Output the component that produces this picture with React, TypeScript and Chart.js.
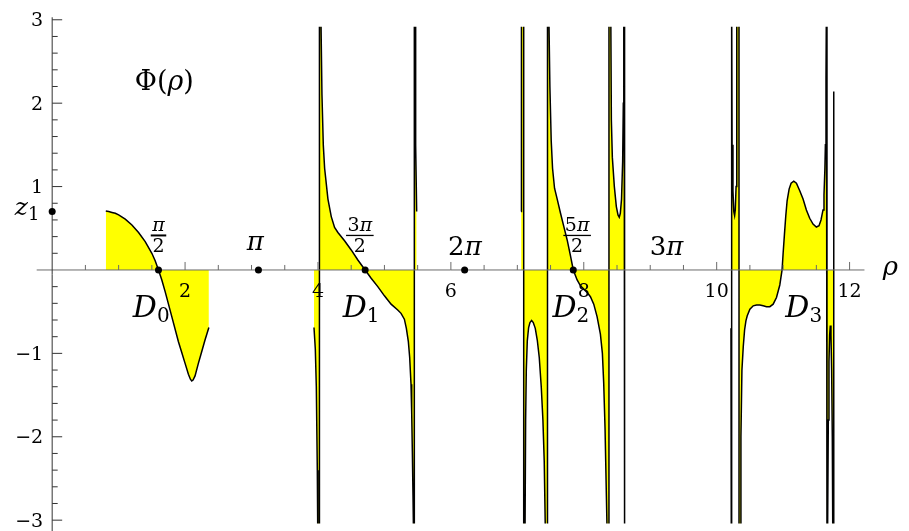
import React, { useEffect, useRef } from 'react';
import { Chart, registerables } from 'chart.js';

Chart.register(...registerables);

// ---------- data ----------
const domainD0: number[][] = [
  [0.807, 0.707], [0.85, 0.7], [0.9, 0.69], [0.95, 0.68], [1.0, 0.66], [1.1, 0.61], [1.2, 0.54],
  [1.3, 0.45], [1.4, 0.34], [1.5, 0.2], [1.55, 0.11], [1.6, 0.0], [1.65, -0.12], [1.7, -0.26],
  [1.8, -0.56], [1.9, -0.86], [1.95, -0.99], [2.0, -1.12], [2.05, -1.25], [2.08, -1.31], [2.1, -1.33],
  [2.12, -1.32], [2.15, -1.27], [2.2, -1.12], [2.25, -0.98], [2.3, -0.84], [2.358, -0.69],
];

const domainD1: number[][] = [
  [3.94, -0.69], [3.96, -0.95], [3.975, -1.4], [3.99, -2.4], [3.998, -3.3], [4.022, -3.3], [4.022, 3.3],
  [4.04, 3.3], [4.06, 2.1], [4.08, 1.5], [4.1, 1.22], [4.15, 0.85], [4.2, 0.64], [4.25, 0.51], [4.3, 0.45],
  [4.4, 0.35], [4.5, 0.24], [4.6, 0.12], [4.71, 0.0], [4.8, -0.1], [4.9, -0.2], [5.0, -0.31], [5.1, -0.41],
  [5.2, -0.48], [5.25, -0.52], [5.3, -0.59], [5.33, -0.7], [5.36, -0.86], [5.38, -1.05], [5.4, -1.37],
  [5.41, -1.7], [5.42, -2.17], [5.43, -2.7], [5.44, -3.3], [5.45, -3.3], [5.45, 3.3], [5.465, 3.3],
  [5.47, 1.5], [5.485, 0.7],
];

const domainD2: number[][] = [
  [7.057, 0.7], [7.062, 3.3], [7.096, 3.3], [7.096, -3.3], [7.115, -3.3], [7.125, -1.8], [7.135, -1.2],
  [7.15, -0.85], [7.17, -0.69], [7.19, -0.63], [7.215, -0.606], [7.24, -0.63], [7.27, -0.7], [7.3, -0.84],
  [7.33, -1.05], [7.36, -1.4], [7.385, -1.8], [7.405, -2.3], [7.425, -3.3], [7.454, -3.3], [7.454, 3.3],
  [7.47, 3.3], [7.49, 2.2], [7.51, 1.55], [7.53, 1.22], [7.56, 0.98], [7.6, 0.85], [7.65, 0.68],
  [7.7, 0.52], [7.75, 0.36], [7.8, 0.17], [7.842, 0.0], [7.9, -0.12], [7.95, -0.19], [8.0, -0.23],
  [8.05, -0.27], [8.1, -0.32], [8.15, -0.41], [8.2, -0.56], [8.25, -0.77], [8.28, -1.0], [8.3, -1.36],
  [8.32, -1.9], [8.34, -2.7], [8.355, -3.3], [8.379, -3.3], [8.379, 3.3], [8.405, 3.3], [8.415, 1.8],
  [8.43, 1.35], [8.46, 1.0], [8.49, 0.76], [8.515, 0.66], [8.534, 0.633], [8.55, 0.68], [8.568, 0.85],
  [8.585, 1.3], [8.595, 2.0], [8.602, 3.3], [8.608, 3.3], [8.608, -3.3], [8.614, -3.3], [8.62, -0.7],
];

const domainD3: number[][] = [
  [10.215, -0.7], [10.22, -3.3], [10.224, -3.3], [10.224, 3.3], [10.228, 3.3], [10.232, 1.5],
  [10.245, 0.95], [10.258, 0.7], [10.27, 0.653], [10.28, 0.72], [10.292, 1.0], [10.3, 1.6], [10.305, 3.3],
  [10.336, 3.3], [10.336, -3.3], [10.353, -3.3], [10.365, -2.0], [10.38, -1.2], [10.4, -0.92],
  [10.42, -0.72], [10.44, -0.61], [10.46, -0.55], [10.5, -0.47], [10.55, -0.43], [10.6, -0.42],
  [10.65, -0.42], [10.7, -0.43], [10.75, -0.44], [10.8, -0.44], [10.85, -0.41], [10.9, -0.33],
  [10.95, -0.18], [10.984, 0.0], [11.0, 0.2], [11.02, 0.43], [11.04, 0.65], [11.06, 0.83], [11.09, 0.97],
  [11.12, 1.04], [11.16, 1.065], [11.2, 1.04], [11.25, 0.95], [11.3, 0.85], [11.35, 0.72], [11.4, 0.62],
  [11.45, 0.55], [11.5, 0.515], [11.54, 0.53], [11.57, 0.6], [11.6, 0.72], [11.615, 0.9], [11.628, 1.2],
  [11.636, 1.5], [11.645, 2.3], [11.652, 3.3], [11.66, 3.3], [11.66, -3.3], [11.668, -3.3], [11.68, -1.8],
  [11.69, -1.1], [11.7, -0.78], [11.71, -0.665], [11.72, -0.78], [11.73, -1.2], [11.74, -2.0],
  [11.748, -3.3], [11.76, -3.3], [11.762, 2.14],
];

const dotX = [0, 1.6, 3.104, 4.71, 6.207, 7.842];
const dotY = [0.7, 0, 0, 0, 0, 0];

const xTickLabels = [2, 4, 6, 8, 10, 12];
const yTickLabels = [-3, -2, -1, 1, 2, 3];
const xMinorStep = 0.5;
const yMinorStep = 0.2;

const xRange = [-0.725, 12.834];
const yRange = [-3.04, 2.917];
const xAxisExtent = [-0.233, 12.224];
const yAxisExtent = [-3.14, 3.03];

const simplePiLabels = [
  { coef: '', x: 3.056, y: 0.24 },
  { coef: '2', x: 6.211, y: 0.18 },
  { coef: '3', x: 9.244, y: 0.18 },
];
const fractionLabels = [
  { coef: '', x: 1.6, bar: 2 },
  { coef: '3', x: 4.63, bar: 1.3 },
  { coef: '5', x: 7.9, bar: 1.3 },
];
const fracNumY = 0.468;
const fracBarY = 0.414;
const fracDenY = 0.21;
const domainLabels = [
  { sub: '0', x: 1.214 },
  { sub: '1', x: 4.372 },
  { sub: '2', x: 7.528 },
  { sub: '3', x: 11.033 },
];
const domainLabelY = -0.56;

// ---------- styling ----------
const SERIF = '"DejaVu Serif", serif';
const YELLOW = '#ffff00';
const X_AXIS_COLOR = '#6a6a6a';
const Y_AXIS_COLOR = '#333333';

type Run = { t: string; font: string; dy?: number };

function drawRuns(ctx: CanvasRenderingContext2D, runs: Run[], x: number, y: number, align: 'left' | 'center' | 'right') {
  ctx.textAlign = 'left';
  ctx.textBaseline = 'alphabetic';
  const widths = runs.map((r) => {
    ctx.font = r.font;
    return ctx.measureText(r.t).width;
  });
  const total = widths.reduce((a, b) => a + b, 0);
  let cx = align === 'left' ? x : align === 'center' ? x - total / 2 : x - total;
  runs.forEach((r, i) => {
    ctx.font = r.font;
    ctx.fillText(r.t, cx, y + (r.dy || 0));
    cx += widths[i];
  });
  return total;
}

const DOTS_INDEX = 4;

function drawAxes(chart: any) {
  const ctx: CanvasRenderingContext2D = chart.ctx;
  const xs = chart.scales.x;
  const ys = chart.scales.y;
  const px0 = xs.getPixelForValue(0);
  const py0 = ys.getPixelForValue(0);
  ctx.save();
  ctx.lineWidth = 1;
  // x axis + ticks (upwards)
  ctx.strokeStyle = X_AXIS_COLOR;
  ctx.beginPath();
  ctx.moveTo(xs.getPixelForValue(xAxisExtent[0]), py0);
  ctx.lineTo(xs.getPixelForValue(xAxisExtent[1]), py0);
  for (let i = 1; i * xMinorStep <= xAxisExtent[1]; i++) {
    const v = i * xMinorStep;
    const major = xTickLabels.some((t) => Math.abs(t - v) < 1e-6);
    const p = xs.getPixelForValue(v);
    ctx.moveTo(p, py0);
    ctx.lineTo(p, py0 - (major ? 8 : 5));
  }
  ctx.stroke();
  // y axis + ticks (rightwards)
  ctx.strokeStyle = Y_AXIS_COLOR;
  ctx.beginPath();
  ctx.moveTo(px0, ys.getPixelForValue(yAxisExtent[1]));
  ctx.lineTo(px0, ys.getPixelForValue(yAxisExtent[0]));
  for (let i = -15; i <= 15; i++) {
    if (i === 0) continue;
    const v = i * yMinorStep;
    const major = yTickLabels.some((t) => Math.abs(t - v) < 1e-6);
    const p = ys.getPixelForValue(v);
    ctx.moveTo(px0, p);
    ctx.lineTo(px0 + (major ? 10 : 5.5), p);
  }
  ctx.stroke();

  // tick labels
  ctx.fillStyle = '#000';
  ctx.font = `19px ${SERIF}`;
  ctx.textAlign = 'center';
  ctx.textBaseline = 'alphabetic';
  xTickLabels.forEach((v) => {
    ctx.fillText(String(v), xs.getPixelForValue(v), py0 + 27);
  });
  ctx.textAlign = 'right';
  yTickLabels.forEach((v) => {
    const s = v < 0 ? '\u2212' + Math.abs(v) : String(v);
    ctx.fillText(s, px0 - 9, ys.getPixelForValue(v) + 6.7);
  });
  ctx.restore();
}

function drawAnnotations(chart: any) {
  const ctx: CanvasRenderingContext2D = chart.ctx;
  const xs = chart.scales.x;
  const ys = chart.scales.y;
  ctx.save();
  ctx.fillStyle = '#000';
  ctx.strokeStyle = '#000';

  // Φ(ρ)
  drawRuns(
    ctx,
    [
      { t: 'Φ(', font: `27px ${SERIF}` },
      { t: 'ρ', font: `italic 27px ${SERIF}` },
      { t: ')', font: `27px ${SERIF}` },
    ],
    xs.getPixelForValue(1.687),
    ys.getPixelForValue(2.158),
    'center'
  );
  // z1
  drawRuns(
    ctx,
    [
      { t: 'z', font: `italic 25px ${SERIF}` },
      { t: '1', font: `18px ${SERIF}`, dy: 5 },
    ],
    xs.getPixelForValue(-0.377),
    ys.getPixelForValue(0.66),
    'center'
  );
  // simple π labels
  simplePiLabels.forEach((l) => {
    const runs: Run[] = [];
    if (l.coef) runs.push({ t: l.coef, font: `26px ${SERIF}` });
    runs.push({ t: 'π', font: `italic 26px ${SERIF}` });
    drawRuns(ctx, runs, xs.getPixelForValue(l.x), ys.getPixelForValue(l.y), 'center');
  });
  // fractions
  fractionLabels.forEach((l) => {
    const cx = xs.getPixelForValue(l.x);
    const runs: Run[] = [];
    if (l.coef) runs.push({ t: l.coef, font: `19px ${SERIF}` });
    runs.push({ t: 'π', font: `italic 19px ${SERIF}` });
    const w = drawRuns(ctx, runs, cx, ys.getPixelForValue(fracNumY), 'center');
    drawRuns(ctx, [{ t: '2', font: `19px ${SERIF}` }], cx, ys.getPixelForValue(fracDenY), 'center');
    const by = ys.getPixelForValue(fracBarY);
    ctx.lineWidth = l.bar;
    ctx.beginPath();
    ctx.moveTo(cx - w / 2 - 1.5, by);
    ctx.lineTo(cx + w / 2 + 1.5, by);
    ctx.stroke();
  });
  // domain labels
  domainLabels.forEach((l) => {
    drawRuns(
      ctx,
      [
        { t: 'D', font: `italic 30px ${SERIF}` },
        { t: l.sub, font: `20px ${SERIF}`, dy: 5 },
      ],
      xs.getPixelForValue(l.x),
      ys.getPixelForValue(domainLabelY),
      'left'
    );
  });
  // axis label ρ
  drawRuns(ctx, [{ t: 'ρ', font: `italic 26px ${SERIF}` }], xs.getPixelForValue(12.5), ys.getPixelForValue(-0.06), 'left');
  ctx.restore();
}

const mathPlugin = {
  id: 'mathAxes',
  beforeDatasetDraw(chart: any, args: any) {
    if (args.index === DOTS_INDEX) drawAxes(chart);
  },
  afterDraw(chart: any) {
    drawAnnotations(chart);
  },
};

const toPts = (a: number[][]) => a.map(([x, y]) => ({ x, y }));

function curveDataset(label: string, data: number[][]) {
  return {
    type: 'line' as const,
    label,
    data: toPts(data),
    borderColor: '#000',
    borderWidth: 1.5,
    backgroundColor: YELLOW,
    fill: 'origin',
    pointRadius: 0,
    tension: 0,
    clip: 0,
    order: 1,
  };
}

export default function App() {
  const ref = useRef<HTMLCanvasElement>(null);
  useEffect(() => {
    if (!ref.current) return;
    const chart = new Chart(ref.current, {
      type: 'line',
      data: {
        datasets: [
          curveDataset('D0', domainD0),
          curveDataset('D1', domainD1),
          curveDataset('D2', domainD2),
          curveDataset('D3', domainD3),
          {
            type: 'line',
            label: 'points',
            data: dotX.map((x, i) => ({ x, y: dotY[i] })),
            showLine: false,
            pointRadius: 3.5,
            pointBackgroundColor: '#000',
            pointBorderWidth: 0,
            fill: false,
            clip: false as any,
            order: 0,
          } as any,
        ],
      },
      options: {
        responsive: false,
        animation: false,
        devicePixelRatio: 1,
        layout: { padding: { top: 26.7, bottom: 7.5, left: 0, right: 0 } },
        plugins: { legend: { display: false }, tooltip: { enabled: false } },
        events: [],
        scales: {
          x: { type: 'linear', min: xRange[0], max: xRange[1], display: false },
          y: { type: 'linear', min: yRange[0], max: yRange[1], display: false },
        },
      } as any,
      plugins: [mathPlugin],
    });
    return () => chart.destroy();
  }, []);
  return (
    <div style={{ position: 'fixed', left: 0, top: 0, width: 909, height: 531, background: '#fff' }}>
      <canvas ref={ref} width={909} height={531} style={{ display: 'block', width: 909, height: 531 }} />
    </div>
  );
}
